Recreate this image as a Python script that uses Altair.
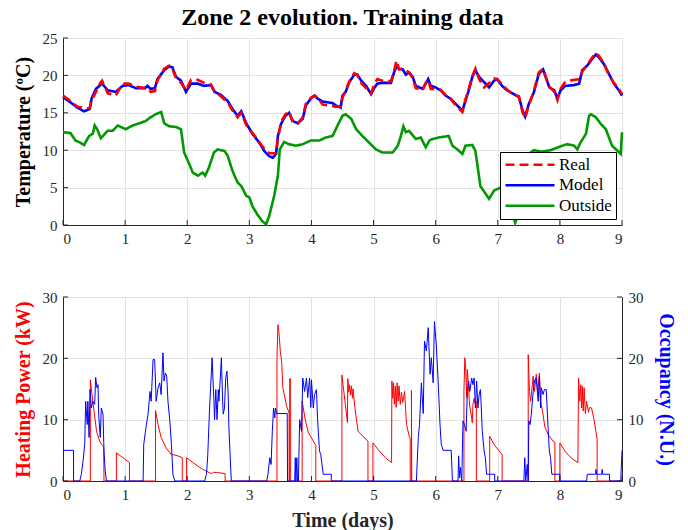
import altair as alt
import pandas as pd

# ---------------- data ----------------
model_day = [0, 0.12, 0.23, 0.34, 0.43, 0.46, 0.53, 0.63, 0.72, 0.85, 0.96, 1.06, 1.17, 1.32, 1.36, 1.41, 1.48, 1.52,
             1.63, 1.71, 1.76, 1.82, 1.90, 1.98, 2.06, 2.17, 2.27, 2.38, 2.44, 2.54, 2.65, 2.73, 2.81, 2.87, 2.95,
             3.05, 3.16, 3.24, 3.32, 3.38, 3.43, 3.46, 3.51, 3.58, 3.64, 3.70, 3.78, 3.86, 3.91, 3.99, 4.05, 4.10,
             4.18, 4.34, 4.39, 4.47, 4.50, 4.55, 4.61, 4.69, 4.74, 4.80, 4.88, 4.96, 5.01, 5.06, 5.14, 5.28, 5.33,
             5.37, 5.41, 5.47, 5.52, 5.57, 5.63, 5.68, 5.79, 5.84, 5.88, 5.92, 6.0, 6.08, 6.16, 6.24, 6.32, 6.43,
             6.48, 6.54, 6.59, 6.64, 6.70, 6.78, 6.86, 6.94, 6.99, 7.07, 7.15, 7.26, 7.34, 7.40, 7.44, 7.50, 7.58,
             7.66, 7.73, 7.77, 7.83, 7.91, 7.96, 8.01, 8.09, 8.23, 8.31, 8.36, 8.44, 8.52, 8.58, 8.63, 8.71, 8.79,
             8.87, 8.95, 9.0]
model_temp = [17.1, 16.4, 15.7, 15.2, 15.5, 16.9, 18.2, 18.9, 18.0, 17.8, 18.6, 18.7, 18.3, 18.3, 18.6, 18.2, 18.3, 19.5,
              20.7, 21.2, 21.1, 19.8, 19.3, 17.8, 18.9, 18.9, 18.6, 18.7, 17.8, 17.4, 16.6, 15.5, 14.6, 15.2, 13.6,
              12.2, 11.0, 9.9, 9.2, 9.0, 9.5, 11.9, 13.5, 14.6, 15.0, 13.9, 13.6, 14.2, 16.0, 16.9, 17.3, 16.9,
              16.5, 16.3, 16.0, 15.7, 17.3, 17.8, 19.1, 20.1, 20.1, 19.3, 18.6, 17.5, 18.3, 18.9, 19.0, 19.0, 20.4,
              21.2, 20.9, 20.8, 20.1, 20.4, 19.8, 18.6, 18.2, 18.9, 19.5, 18.6, 18.4, 18.0, 17.3, 16.9, 16.2, 15.3,
              16.6, 18.2, 19.8, 20.7, 19.8, 19.1, 18.4, 19.3, 19.5, 18.6, 18.0, 17.5, 17.1, 15.3, 14.5, 16.2, 17.7,
              20.2, 20.8, 19.8, 18.4, 18.0, 16.9, 18.0, 18.6, 18.7, 18.9, 20.7, 21.3, 22.2, 22.8, 22.4, 21.5, 20.2,
              18.9, 18.0, 17.3]

real_day = [0, 0.12, 0.23, 0.30, 0.34, 0.43, 0.46, 0.53, 0.60, 0.63, 0.68, 0.72, 0.85, 0.96, 1.06, 1.17, 1.32, 1.36,
            1.41, 1.48, 1.52, 1.63, 1.71, 1.76, 1.82, 1.90, 1.98, 2.06, 2.17, 2.27, 2.38, 2.44, 2.54, 2.65, 2.73,
            2.81, 2.87, 2.95, 3.05, 3.16, 3.24, 3.32, 3.38, 3.43, 3.46, 3.51, 3.58, 3.64, 3.70, 3.78, 3.86, 3.91,
            3.99, 4.05, 4.10, 4.18, 4.34, 4.39, 4.47, 4.50, 4.55, 4.61, 4.69, 4.74, 4.80, 4.88, 4.96, 5.01, 5.06,
            5.14, 5.28, 5.33, 5.37, 5.41, 5.47, 5.52, 5.57, 5.63, 5.68, 5.79, 5.84, 5.88, 5.92, 6.0, 6.08, 6.16,
            6.24, 6.32, 6.43, 6.48, 6.54, 6.59, 6.64, 6.70, 6.78, 6.86, 6.94, 6.99, 7.07, 7.15, 7.26, 7.34, 7.40,
            7.44, 7.50, 7.58, 7.66, 7.73, 7.77, 7.83, 7.91, 7.96, 8.01, 8.09, 8.23, 8.31, 8.36, 8.44, 8.52, 8.58,
            8.63, 8.71, 8.79, 8.87, 8.95, 9.0]
real_temp = [17.3, 16.6, 15.8, 15.7, 15.6, 15.6, 16.6, 17.8, 19.0, 19.3, 18.4, 17.6, 17.3, 18.9, 18.9, 18.5, 18.3, 18.3,
             17.8, 17.9, 19.3, 20.9, 21.3, 20.9, 19.6, 19.0, 18.0, 19.4, 19.4, 19.0, 18.8, 17.9, 17.2, 16.4, 15.3,
             14.4, 15.0, 13.4, 12.3, 11.1, 10.2, 9.6, 9.6, 9.6, 11.5, 13.8, 14.8, 15.2, 13.7, 13.6, 14.4, 16.2,
             17.0, 17.3, 17.0, 16.1, 15.9, 15.8, 15.9, 17.0, 18.0, 19.2, 20.3, 20.0, 19.0, 18.3, 17.6, 18.8, 19.5,
             19.3, 19.2, 20.6, 22.0, 20.8, 20.9, 20.7, 20.4, 19.6, 18.3, 18.0, 19.0, 19.3, 18.2, 18.2, 18.1, 17.4,
             16.9, 16.0, 15.1, 16.8, 18.4, 19.9, 20.9, 19.5, 18.4, 19.0, 19.6, 19.5, 18.8, 18.1, 17.4, 17.2, 15.0,
             14.3, 16.0, 17.9, 20.4, 20.9, 19.9, 18.5, 17.8, 16.7, 18.2, 19.2, 19.4, 19.5, 20.5, 21.4, 22.4, 23.0,
             22.6, 21.6, 20.0, 19.0, 18.2, 17.5]

outside_day = [0, 0.12, 0.2, 0.28, 0.34, 0.42, 0.48, 0.51, 0.55, 0.61, 0.72, 0.80, 0.88, 1.01, 1.12, 1.23, 1.33, 1.41,
               1.49, 1.58, 1.63, 1.71, 1.82, 1.90, 1.95, 2.02, 2.09, 2.17, 2.25, 2.29, 2.35, 2.43, 2.49, 2.60, 2.65,
               2.73, 2.81, 2.87, 2.95, 3.0, 3.05, 3.13, 3.21, 3.27, 3.32, 3.40, 3.46, 3.49, 3.56, 3.64, 3.75, 3.86,
               3.99, 4.13, 4.23, 4.34, 4.42, 4.50, 4.55, 4.64, 4.72, 4.82, 4.93, 5.04, 5.14, 5.31, 5.39, 5.44, 5.48,
               5.52, 5.57, 5.68, 5.76, 5.84, 5.90, 5.95, 6.05, 6.21, 6.27, 6.35, 6.43, 6.48, 6.59, 6.64, 6.72, 6.81,
               6.86, 6.94, 6.99, 7.05, 7.15, 7.22, 7.28, 7.33, 7.42, 7.50, 7.58, 7.70, 7.85, 8.04, 8.12, 8.23, 8.28,
               8.33, 8.42, 8.47, 8.50, 8.58, 8.66, 8.74, 8.79, 8.84, 8.93, 8.98, 9.0]
outside_temp = [12.4, 12.3, 11.3, 11.0, 10.7, 11.9, 12.2, 13.3, 12.8, 11.6, 12.6, 12.6, 13.3, 12.8, 13.3, 13.6, 13.9, 14.4,
                14.8, 15.1, 13.6, 13.2, 13.1, 12.8, 9.7, 8.4, 7.0, 6.6, 7.0, 6.6, 7.7, 9.7, 10.1, 9.9, 9.3,
                7.2, 5.7, 5.2, 3.9, 3.7, 2.5, 1.4, 0.5, 0.1, 1.2, 3.9, 6.6, 10.1, 11.1, 10.8, 10.6, 10.8,
                11.3, 11.3, 11.7, 11.9, 13.3, 14.6, 14.8, 14.2, 12.8, 11.9, 11.0, 10.1, 9.7, 9.7, 10.6, 11.9, 13.2,
                12.4, 12.6, 11.5, 11.7, 10.4, 11.3, 11.5, 11.7, 11.9, 10.6, 10.1, 9.5, 10.6, 10.7, 9.9, 5.2, 4.1,
                3.5, 4.6, 4.8, 5.0, 4.2, 2.0, 0.3, 1.5, 6.0, 9.5, 10.0, 9.8, 10.0, 10.6, 10.8, 10.6, 10.1,
                11.0, 12.2, 14.6, 14.8, 14.4, 13.5, 12.8, 11.7, 10.6, 9.9, 9.5, 12.4]

heat_day = [0, 0.44, 0.44, 0.48, 0.54, 0.59, 0.617, 0.655, 0.66,
            0.86, 0.86, 1.07, 1.07,
            1.49, 1.49, 1.53, 1.58, 1.66, 1.745, 1.77, 1.85, 1.92, 1.92,
            1.99, 1.99, 2.09, 2.25, 2.39, 2.42, 2.47, 2.61, 2.61,
            3.445, 3.445, 3.46, 3.475, 3.50, 3.52, 3.54, 3.60, 3.64, 3.64, 3.65, 3.65, 3.66, 3.66,
            3.85, 3.85, 3.90, 3.95, 4.07, 4.07,
            4.49, 4.49, 4.54, 4.58, 4.585, 4.60, 4.615, 4.63, 4.645, 4.66, 4.67, 4.70, 4.75, 4.83, 4.91, 4.91,
            4.99, 4.99, 5.10, 5.20, 5.29, 5.295, 5.31, 5.32, 5.335, 5.35, 5.365, 5.38, 5.395, 5.41, 5.43, 5.45,
            5.47, 5.50, 5.53, 5.58, 5.59, 5.59, 5.61, 5.61, 5.615,
            6.455, 6.455, 6.47, 6.485, 6.50, 6.51, 6.53, 6.545, 6.57, 6.59, 6.60, 6.62, 6.64, 6.655, 6.655,
            6.87, 6.87, 6.95, 7.07, 7.07,
            7.49, 7.49, 7.51, 7.53, 7.57, 7.59, 7.62, 7.64, 7.67, 7.69, 7.72, 7.76, 7.81, 7.89, 7.92, 7.92,
            8.0, 8.0, 8.10, 8.20, 8.29, 8.30, 8.32, 8.335, 8.35, 8.36, 8.375, 8.39, 8.41, 8.43, 8.46, 8.48,
            8.51, 8.53, 8.55, 8.58, 8.60, 8.60, 9.0]
heat_kw = [0, 0, 16.5, 13.0, 8.1, 6.5, 6.0, 5.6, 0,
           0, 4.6, 3.0, 0,
           0, 11.5, 9.2, 7.1, 5.4, 4.3, 4.3, 4.1, 3.8, 0,
           0, 3.8, 3.0, 1.9, 1.2, 1.4, 1.4, 1.2, 0,
           0, 20.1, 25.5, 24.5, 21.0, 19.5, 15.2, 12.2, 11.1, 0, 0, 16.7, 16.7, 0,
           0, 13.0, 10.0, 7.9, 5.8, 0,
           0, 17.3, 13.0, 9.5, 16.7, 14.5, 15.7, 14.0, 15.5, 13.5, 15.0, 11.9, 8.1, 7.3, 6.5, 0,
           0, 6.2, 4.8, 3.7, 3.0, 16.3, 13.5, 16.0, 12.5, 15.5, 12.0, 16.0, 13.0, 15.5, 12.5, 14.5,
           12.8, 14.6, 9.2, 7.1, 7.0, 0, 0, 14.8, 0,
           0, 14.6, 20.1, 17.9, 13.6, 18.2, 15.2, 12.4, 10.9, 9.5, 12.5, 13.5, 12.5, 13.0, 0,
           0, 7.3, 5.8, 4.3, 0,
           0, 20.6, 14.6, 13.0, 17.1, 14.6, 17.4, 14.6, 17.6, 13.0, 11.4, 8.7, 7.6, 6.5, 6.3, 0,
           0, 6.2, 4.6, 3.6, 3.0, 16.8, 13.0, 15.7, 11.9, 15.5, 11.4, 15.2, 11.0, 13.0, 11.2, 12.0,
           11.9, 10.9, 10.0, 8.1, 6.8, 0, 0]

occ_day = [0, 0.17, 0.17, 0.27, 0.295, 0.32, 0.35, 0.365, 0.39, 0.40, 0.42, 0.435, 0.456, 0.48, 0.51, 0.526, 0.547,
           0.564, 0.574, 0.60, 0.617, 0.644, 0.66, 0.68, 0.70,
           1.29, 1.30, 1.34, 1.37, 1.40, 1.42, 1.45, 1.476, 1.50, 1.53, 1.557, 1.58, 1.61, 1.626, 1.648, 1.67,
           1.69, 1.72, 1.745, 1.77, 1.80,
           2.28, 2.31, 2.33, 2.36, 2.39, 2.40, 2.43, 2.44, 2.46, 2.48, 2.50, 2.51, 2.53, 2.55, 2.57, 2.58, 2.60,
           2.62, 2.64, 2.66, 2.67, 2.69, 2.71,
           3.28, 3.30, 3.33, 3.35, 3.37, 3.39, 3.41, 3.42, 3.44, 3.61, 3.615,
           3.73, 3.74, 3.75, 3.765, 3.775, 3.79, 3.81, 3.84, 3.86, 3.89, 3.92, 3.94, 3.97, 3.99, 4.0, 4.03, 4.05,
           4.08, 4.10, 4.13, 4.15, 4.19, 4.32, 4.32,
           5.69, 5.72, 5.74, 5.77, 5.80, 5.82, 5.85, 5.88, 5.91, 5.93, 5.96, 5.98, 6.01, 6.04, 6.07, 6.09, 6.12,
           6.25, 6.27,
           6.36, 6.37, 6.385, 6.40, 6.42, 6.44, 6.465, 6.49, 6.51, 6.53, 6.55, 6.58, 6.60, 6.62, 6.64, 6.66, 6.68,
           6.70, 6.72, 6.73, 6.75, 6.78, 6.80, 6.82, 6.95, 6.95,
           7.42, 7.435, 7.45, 7.475, 7.49, 7.50, 7.52, 7.54, 7.57, 7.59, 7.62, 7.65, 7.67, 7.69, 7.70, 7.73, 7.75,
           7.78, 7.81, 7.83, 7.85, 7.87, 8.0, 8.0,
           8.43, 8.44, 8.575, 8.58, 8.59, 8.675, 8.68, 8.69, 8.80, 8.80, 8.98, 9.0]
occ_nu = [5, 5, 0, 0, 1.1, 3.0, 6.0, 13.0, 9.2, 13.0, 7.1, 14.9, 11.9, 13.0, 12.5, 16.9, 15.2,
          15.7, 10.9, 7.1, 11.9, 10.9, 4.9, 1.6, 0,
          0, 6.0, 9.0, 10.9, 14.6, 13.0, 19.8, 19.8, 13.0, 15.2, 16.0, 14.1, 20.9, 16.3, 17.6, 17.1,
          13.0, 9.8, 6.0, 1.1, 0,
          0, 1.1, 4.1, 11.9, 17.9, 20.1, 13.0, 10.0, 14.9, 10.0, 14.9, 13.0, 16.3, 20.1, 13.0, 10.9, 11.9,
          16.8, 17.9, 14.1, 9.0, 4.3, 0,
          0, 1.1, 3.8, 2.7, 8.1, 11.9, 10.3, 11.9, 11.0, 11.0, 0,
          0, 3.8, 0, 3.8, 0, 0, 10.0, 8.1, 16.8, 14.6, 16.8, 13.6, 16.8, 12.0, 16.5, 11.9, 14.1,
          14.9, 9.8, 4.9, 4.3, 1.1, 1.1, 0,
          0, 7.1, 9.2, 16.0, 11.0, 22.8, 21.2, 25.0, 17.4, 20.1, 16.0, 26.0, 22.2, 16.3, 9.2, 6.0, 5.0,
          5.0, 0,
          0, 4.1, 0.5, 2.2, 0, 9.8, 9.2, 8.1, 14.6, 16.3, 14.6, 16.8, 15.7, 16.8, 11.9, 16.3, 11.9,
          14.1, 14.9, 13.0, 8.1, 4.9, 3.8, 1.1, 1.1, 0,
          0, 3.8, 0, 2.7, 0, 9.8, 9.2, 10.9, 14.6, 16.3, 16.8, 13.0, 17.1, 11.9, 15.2, 14.1, 14.9,
          14.9, 8.7, 4.9, 3.8, 1.1, 1.1, 0,
          0, 1.1, 1.1, 1.9, 1.1, 1.1, 1.9, 1.1, 1.1, 0, 0, 5.0]

series_names = ["Real", "Model", "Outside"]
series_colors = ["#ff0000", "#0000ff", "#009900"]
day_ticks = [0, 1, 2, 3, 4, 5, 6, 7, 8, 9]
temp_ticks = [0, 5, 10, 15, 20, 25]
power_ticks = [0, 10, 20, 30]

# ---------------- frames ----------------
def frame(days, vals, name):
    return pd.DataFrame({"day": days, "val": vals, "series": name, "i": range(len(days))})

temp_df = pd.concat([frame(real_day, real_temp, "Real"),
                     frame(model_day, model_temp, "Model"),
                     frame(outside_day, outside_temp, "Outside")], ignore_index=True)
heat_df = frame(heat_day, heat_kw, "Heat")
occ_df = frame(occ_day, occ_nu, "Occ")
xt_df = pd.DataFrame({"day": day_ticks})
tt_df = pd.DataFrame({"val": temp_ticks})
pt_df = pd.DataFrame({"val": power_ticks})

FONT = "Liberation Serif"
AX = "#262626"
GRID = "#e3e3e3"
W, H1, H2 = 559, 187, 184
TFS = 20  # axis title font size

xscale = alt.Scale(domain=[0, 9], nice=False, zero=False)

def xaxis(title=None):
    kw = dict(values=day_ticks, grid=True, gridColor=GRID, tickSize=0, labelPadding=6,
              labelFont=FONT, labelFontSize=15, labelColor=AX, domainColor=AX, format="d")
    if title:
        kw.update(title=title, titleFont=FONT, titleFontSize=TFS, titleFontWeight="bold",
                  titleColor=AX, titlePadding=8)
    else:
        kw.update(title=None)
    return alt.Axis(**kw)

XA_TOP = xaxis()
XA_BOT = xaxis("Time (days)")

legend = alt.Legend(title=None, orient="bottom-right", symbolType="stroke", symbolSize=2400,
                    symbolStrokeWidth=2.5, labelFont=FONT, labelFontSize=17, labelColor="black",
                    strokeColor="black", fillColor="white", padding=4, offset=6, rowPadding=1.5,
                    clipHeight=17.5, labelOffset=3)
cscale = alt.Scale(domain=series_names, range=series_colors)
dscale = alt.Scale(domain=series_names, range=[[9, 5], [1, 0], [1, 0]])

tyscale = alt.Scale(domain=[0, 25], nice=False)
tyaxis = alt.Axis(values=temp_ticks, grid=True, gridColor=GRID, tickSize=0, labelPadding=6,
                  labelFont=FONT, labelFontSize=15, labelColor=AX, domainColor=AX,
                  title="Temperature (ºC)", titleFont=FONT, titleFontSize=TFS, titleFontWeight="bold",
                  titleColor="black", titlePadding=9)

base_t = alt.Chart(temp_df)
layers = []
for name in ["Outside", "Model", "Real"]:
    layers.append(base_t.transform_filter(alt.datum.series == name).mark_line(strokeWidth=2.6).encode(
        x=alt.X("day:Q", scale=xscale, axis=XA_TOP),
        y=alt.Y("val:Q", scale=tyscale, axis=tyaxis),
        color=alt.Color("series:N", scale=cscale, legend=legend),
        strokeDash=alt.StrokeDash("series:N", scale=dscale, legend=legend),
        order="i:Q"))

xt_top = alt.Chart(xt_df).mark_rule(color=AX, strokeWidth=1).encode(
    x=alt.X("day:Q", scale=xscale, axis=XA_TOP), y=alt.value(H1 - 5), y2=alt.value(H1))
yt_top = alt.Chart(tt_df).mark_rule(color=AX, strokeWidth=1).encode(
    y=alt.Y("val:Q", scale=tyscale, axis=tyaxis), x=alt.value(0), x2=alt.value(5))

top = alt.layer(*layers, xt_top, yt_top).properties(
    width=W, height=H1,
    title=alt.TitleParams("Zone 2 evolution. Training data", font=FONT, fontSize=24,
                          fontWeight="bold", color="black", anchor="middle", offset=1))

# bottom panel
pyscale = alt.Scale(domain=[0, 30], nice=False)
left_axis = alt.Axis(values=power_ticks, grid=True, gridColor=GRID, tickSize=0, labelPadding=6,
                     labelFont=FONT, labelFontSize=15, labelColor=AX, domainColor=AX,
                     title="Heating Power (kW)", titleFont=FONT, titleFontSize=TFS, titleFontWeight="bold",
                     titleColor="#ff0000", titlePadding=9)
right_axis = alt.Axis(values=power_ticks, grid=False, tickSize=0, labelPadding=6, orient="right",
                      labelFont=FONT, labelFontSize=15, labelColor=AX, domainColor=AX,
                      title="Occupancy (N.U.)", titleFont=FONT, titleFontSize=TFS, titleFontWeight="bold",
                      titleColor="#0000ff", titlePadding=12)

heat_line = alt.Chart(heat_df).mark_line(color="#ff0000", strokeWidth=1).encode(
    x=alt.X("day:Q", scale=xscale, axis=XA_BOT),
    y=alt.Y("val:Q", scale=pyscale, axis=left_axis), order="i:Q")
left_ticks = alt.Chart(pt_df).mark_rule(color=AX, strokeWidth=1).encode(
    y=alt.Y("val:Q", scale=pyscale, axis=left_axis), x=alt.value(0), x2=alt.value(5))
xt_bot = alt.Chart(xt_df).mark_rule(color=AX, strokeWidth=1).encode(
    x=alt.X("day:Q", scale=xscale, axis=XA_BOT), y=alt.value(H2 - 5), y2=alt.value(H2))

occ_line = alt.Chart(occ_df).mark_line(color="#0000ff", strokeWidth=1).encode(
    x=alt.X("day:Q", scale=xscale, axis=XA_BOT),
    y=alt.Y("val:Q", scale=pyscale, axis=right_axis), order="i:Q")
right_ticks = alt.Chart(pt_df).mark_rule(color=AX, strokeWidth=1).encode(
    y=alt.Y("val:Q", scale=pyscale, axis=right_axis), x=alt.value(W - 5), x2=alt.value(W))

left_group = alt.layer(heat_line, left_ticks, xt_bot)
right_group = alt.layer(occ_line, right_ticks)
bottom = alt.layer(left_group, right_group).resolve_scale(y="independent").properties(width=W, height=H2)

chart = alt.vconcat(top, bottom, spacing=42).resolve_scale(
    color="independent", strokeDash="independent"
).resolve_legend(color="independent", strokeDash="independent").properties(
    padding={"left": 12, "top": 5, "right": 5, "bottom": 4}
).configure_view(stroke=GRID).configure(background="white")

chart.save("out.html", embed_options={"renderer": "svg", "actions": False})
